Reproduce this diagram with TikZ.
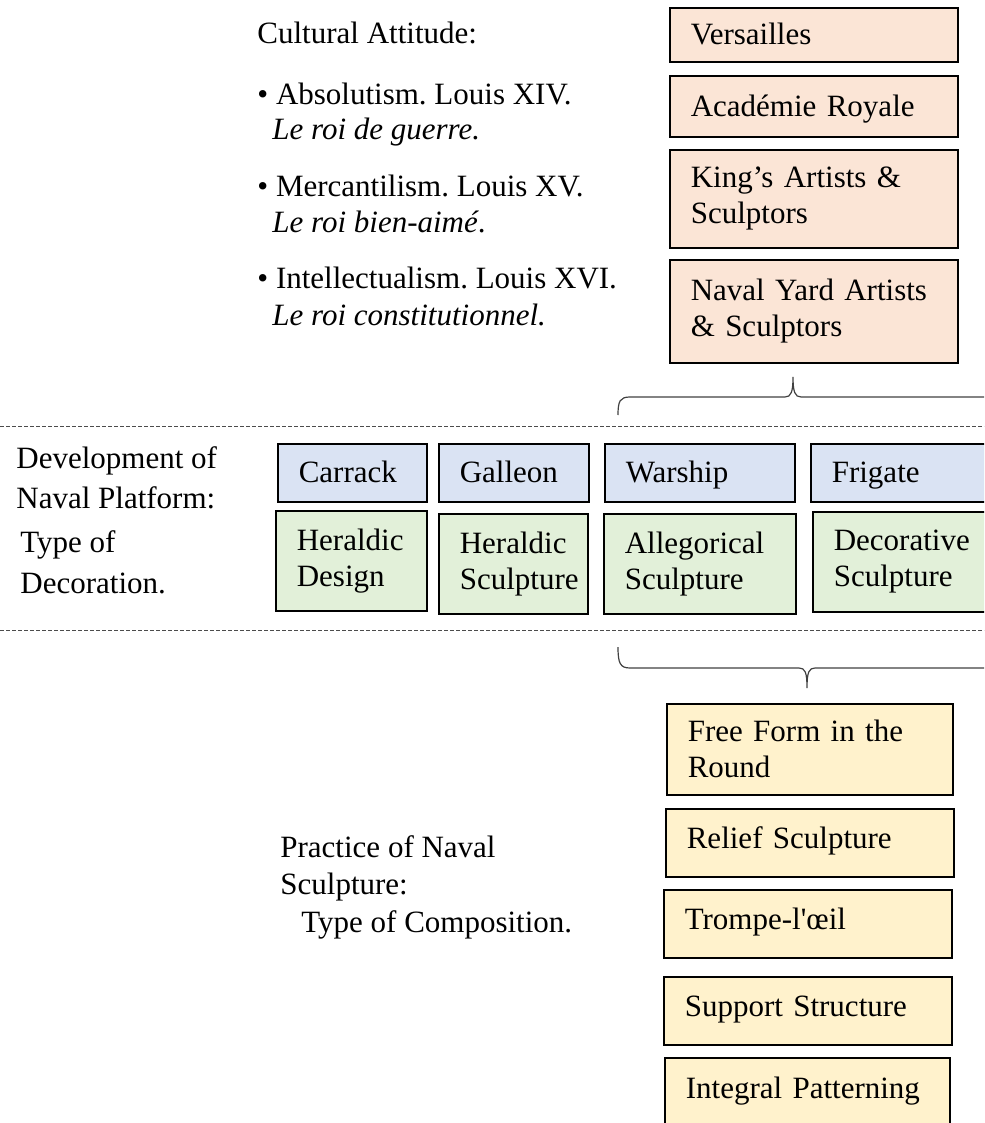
\documentclass[tikz,border=0pt]{standalone}
\usepackage{fontspec}
\setmainfont{Liberation Serif}
\usetikzlibrary{positioning}
\frenchspacing

\definecolor{courtfill}{HTML}{FBE5D6}
\definecolor{shipfill}{HTML}{DAE3F3}
\definecolor{decofill}{HTML}{E2F0D9}
\definecolor{compfill}{HTML}{FFF2CC}

\tikzset{
	every node/.style={font=\fontsize{15.5}{18}\selectfont},
	card/.style={draw=black, line width=0.8pt, anchor=north west, inner xsep=10.5pt, inner ysep=0pt, align=left},
	court/.style={card, fill=courtfill, minimum width=144pt, text width=123pt},
	ship/.style={card, fill=shipfill, minimum height=29pt, text height=13pt, text depth=3pt},
	deco/.style={card, fill=decofill, minimum height=50pt},
	comp/.style={card, fill=compfill},
	oneline/.style={text height=10pt, text depth=4pt},
	freetext/.style={anchor=base west, inner sep=0pt},
	divider/.style={draw=black!70, line width=0.5pt, dash pattern=on 2pt off 1pt},
	brace/.style={draw=black!75, line width=0.6pt}
}

\begin{document}
\begin{tikzpicture}[x=0.5pt,y=-0.5pt]
		\useasboundingbox (0,0) rectangle (984,1123);
		\clip (0,0) rectangle (984,1123);
		
		% cultural attitude
		\node[freetext] (cult) at (257,44) {Cultural Attitude:};
		\node[freetext] (abs) at (257,105) {\textbullet\ Absolutism. Louis XIV.};
		\node[freetext] (absking) at (272,140) {\textit{Le roi de guerre.}};
		\node[freetext] (merc) at (257,197) {\textbullet\ Mercantilism. Louis XV.};
		\node[freetext] (mercking) at (272,233) {\textit{Le roi bien-aimé}.};
		\node[freetext] (intel) at (257,288) {\textbullet\ Intellectualism. Louis XVI.};
		\node[freetext] (intelking) at (272,325) {\textit{Le roi constitutionnel.}};
		
		% court boxes
		\node[court, minimum height=27pt, text height=13pt, text depth=3pt] (vers) at (669,7) {Versailles};
		\node[court, minimum height=30.5pt, text height=13pt, text depth=3pt] (acad) at (669,75) {Académie Royale};
		\node[court, minimum height=49pt] (kings) at (669,149) {King’s Artists \&\\Sculptors};
		\node[court, minimum height=51.5pt] (yard) at (669,259) {Naval Yard Artists\\\& Sculptors};
		
		% upper brace
		\coordinate (ua) at (618,415);
		\coordinate (ub) at (793,377);
		\coordinate (uc) at (990,397);
		\draw[brace] (ua) .. controls (618,401) and (620,397) .. (630,397) -- (785,397)
			.. controls (791,397) and (793,392) .. (ub)
			.. controls (793,392) and (795,397) .. (801,397) -- (uc);
		
		% dividers
		\draw[divider] (0,426) -- (984,426);
		\draw[divider] (0,630) -- (984,630);
		
		% platform and decoration
		\node[freetext] (dev1) at (16,468) {Development of};
		\node[freetext] (dev2) at (16,508) {Naval Platform:};
		\node[freetext] (type1) at (20,552) {Type of};
		\node[freetext] (type2) at (20,593) {Decoration.};
		
		\node[ship, minimum width=74.5pt, text width=53.5pt] (carrack) at (277,443) {Carrack};
		\node[ship, minimum width=75pt, text width=54pt] (galleon) at (438,443) {Galleon};
		\node[ship, minimum width=95pt, text width=74pt] (warship) at (604,443) {Warship};
		\node[ship, minimum width=96pt, text width=75pt] (frigate) at (810,443) {Frigate};
		
		\node[deco, minimum width=75.5pt, text width=54.5pt] (herdesign) at (275,510) {Heraldic\\Design};
		\node[deco, minimum width=74.5pt, text width=53.5pt] (hersculpt) at (438,513) {Heraldic\\Sculpture};
		\node[deco, minimum width=96pt, text width=75pt] (allegory) at (603,513) {Allegorical\\Sculpture};
		\node[deco, minimum width=96pt, text width=75pt] (decor) at (812,511) {Decorative\\Sculpture};
		
		% lower brace
		\coordinate (la) at (618,647);
		\coordinate (lb) at (807,688);
		\coordinate (lc) at (990,668);
		\draw[brace] (la) .. controls (618,663) and (620,668) .. (630,668) -- (799,668)
			.. controls (805,668) and (807,672) .. (lb)
			.. controls (807,672) and (809,668) .. (815,668) -- (lc);
		
		% practice of naval sculpture
		\node[freetext] (prac1) at (280,857) {Practice of Naval};
		\node[freetext] (prac2) at (280,894) {Sculpture:};
		\node[freetext] (prac3) at (301,932) {Type of Composition.};
		
		\node[comp, minimum width=143pt, text width=122pt, minimum height=45.5pt] (freeform) at (666,703) {Free Form in the\\Round};
		\node[comp, oneline, minimum width=144pt, text width=123pt, minimum height=34pt] (relief) at (665,808) {Relief Sculpture};
		\node[comp, oneline, minimum width=144pt, text width=123pt, minimum height=34pt] (trompe) at (663,889) {Trompe-l\textquotesingle œil};
		\node[comp, oneline, minimum width=144pt, text width=123pt, minimum height=34pt] (support) at (663,976) {Support Structure};
		\node[comp, oneline, minimum width=142.5pt, text width=121.5pt, minimum height=35pt] (integral) at (664,1057) {Integral Patterning};
	\end{tikzpicture}
\end{document}
